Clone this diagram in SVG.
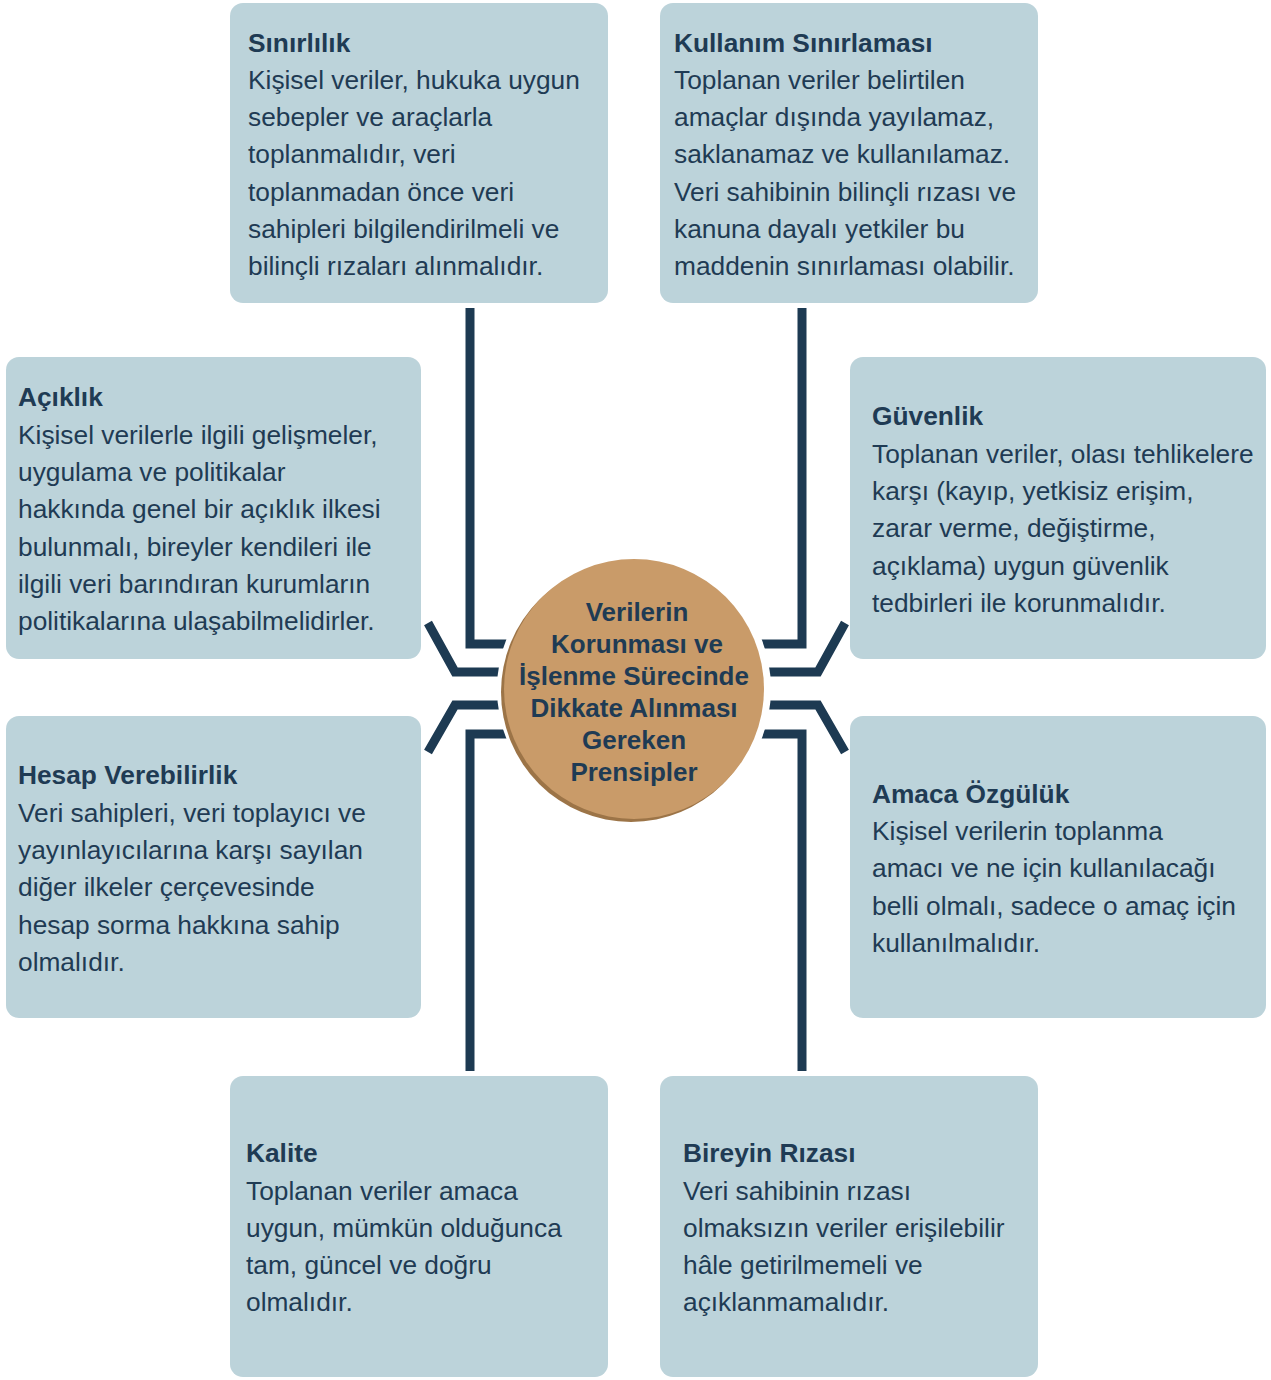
<svg xmlns="http://www.w3.org/2000/svg" width="1271" height="1380" viewBox="0 0 1271 1380">
<style>
.box{fill:#bcd3da}
.t{font-family:"Liberation Sans",Arial,Helvetica,sans-serif;font-size:26.3px;fill:#1f3b54}
.h{font-weight:bold}
.c{font-family:"Liberation Sans",Arial,Helvetica,sans-serif;font-size:26px;font-weight:bold;fill:#1f3b54;text-anchor:middle}
.ln{fill:none;stroke:#1d3a52;stroke-width:9;stroke-linejoin:miter;stroke-linecap:butt}
</style>
<rect width="1271" height="1380" fill="#fff"/>
<g id="connectors">
<path class="ln" d="M470 308 V644 H520"/>
<path class="ln" d="M428 623 L455 672 H520"/>
<path class="ln" d="M428 752 L455 705 H520"/>
<path class="ln" d="M470 1071 V734 H520"/>
<path class="ln" d="M802 308 V644 H750"/>
<path class="ln" d="M845 623 L818 672 H750"/>
<path class="ln" d="M845 752 L818 705 H750"/>
<path class="ln" d="M802 1071 V734 H750"/>
</g>
<g id="center">
<circle cx="634" cy="689" r="137" fill="#fff"/>
<circle cx="631" cy="692" r="130" fill="#9c7447"/>
<circle cx="634" cy="689" r="130" fill="#c99b69"/>
<text class="c" x="637" y="621">Verilerin</text>
<text class="c" x="637" y="653">Korunması ve</text>
<text class="c" x="634" y="685">İşlenme Sürecinde</text>
<text class="c" x="634" y="717">Dikkate Alınması</text>
<text class="c" x="634" y="749">Gereken</text>
<text class="c" x="634" y="781">Prensipler</text>
</g>
<g id="sinirlilik">
<rect class="box" x="230" y="3" width="378" height="300" rx="13"/>
<text class="t" x="248"><tspan class="h" x="248" y="52">Sınırlılık</tspan><tspan x="248" y="89">Kişisel veriler, hukuka uygun</tspan><tspan x="248" y="126">sebepler ve araçlarla</tspan><tspan x="248" y="163">toplanmalıdır, veri</tspan><tspan x="248" y="201">toplanmadan önce veri</tspan><tspan x="248" y="238">sahipleri bilgilendirilmeli ve</tspan><tspan x="248" y="275">bilinçli rızaları alınmalıdır.</tspan></text>
</g>
<g id="kullanim">
<rect class="box" x="660" y="3" width="378" height="300" rx="13"/>
<text class="t" x="674"><tspan class="h" x="674" y="52">Kullanım Sınırlaması</tspan><tspan x="674" y="89">Toplanan veriler belirtilen</tspan><tspan x="674" y="126">amaçlar dışında yayılamaz,</tspan><tspan x="674" y="163">saklanamaz ve kullanılamaz.</tspan><tspan x="674" y="201">Veri sahibinin bilinçli rızası ve</tspan><tspan x="674" y="238">kanuna dayalı yetkiler bu</tspan><tspan x="674" y="275">maddenin sınırlaması olabilir.</tspan></text>
</g>
<g id="aciklik">
<rect class="box" x="6" y="357" width="415" height="302" rx="13"/>
<text class="t" x="18"><tspan class="h" x="18" y="406">Açıklık</tspan><tspan x="18" y="444">Kişisel verilerle ilgili gelişmeler,</tspan><tspan x="18" y="481">uygulama ve politikalar</tspan><tspan x="18" y="518">hakkında genel bir açıklık ilkesi</tspan><tspan x="18" y="556">bulunmalı, bireyler kendileri ile</tspan><tspan x="18" y="593">ilgili veri barındıran kurumların</tspan><tspan x="18" y="630">politikalarına ulaşabilmelidirler.</tspan></text>
</g>
<g id="guvenlik">
<rect class="box" x="850" y="357" width="416" height="302" rx="13"/>
<text class="t" x="872"><tspan class="h" x="872" y="425">Güvenlik</tspan><tspan x="872" y="463">Toplanan veriler, olası tehlikelere</tspan><tspan x="872" y="500">karşı (kayıp, yetkisiz erişim,</tspan><tspan x="872" y="537">zarar verme, değiştirme,</tspan><tspan x="872" y="575">açıklama) uygun güvenlik</tspan><tspan x="872" y="612">tedbirleri ile korunmalıdır.</tspan></text>
</g>
<g id="hesap">
<rect class="box" x="6" y="716" width="415" height="302" rx="13"/>
<text class="t" x="18"><tspan class="h" x="18" y="784">Hesap Verebilirlik</tspan><tspan x="18" y="822">Veri sahipleri, veri toplayıcı ve</tspan><tspan x="18" y="859">yayınlayıcılarına karşı sayılan</tspan><tspan x="18" y="896">diğer ilkeler çerçevesinde</tspan><tspan x="18" y="934">hesap sorma hakkına sahip</tspan><tspan x="18" y="971">olmalıdır.</tspan></text>
</g>
<g id="amaca">
<rect class="box" x="850" y="716" width="416" height="302" rx="13"/>
<text class="t" x="872"><tspan class="h" x="872" y="803">Amaca Özgülük</tspan><tspan x="872" y="840">Kişisel verilerin toplanma</tspan><tspan x="872" y="877">amacı ve ne için kullanılacağı</tspan><tspan x="872" y="915">belli olmalı, sadece o amaç için</tspan><tspan x="872" y="952">kullanılmalıdır.</tspan></text>
</g>
<g id="kalite">
<rect class="box" x="230" y="1076" width="378" height="301" rx="13"/>
<text class="t" x="246"><tspan class="h" x="246" y="1162">Kalite</tspan><tspan x="246" y="1200">Toplanan veriler amaca</tspan><tspan x="246" y="1237">uygun, mümkün olduğunca</tspan><tspan x="246" y="1274">tam, güncel ve doğru</tspan><tspan x="246" y="1311">olmalıdır.</tspan></text>
</g>
<g id="bireyin">
<rect class="box" x="660" y="1076" width="378" height="301" rx="13"/>
<text class="t" x="683"><tspan class="h" x="683" y="1162">Bireyin Rızası</tspan><tspan x="683" y="1200">Veri sahibinin rızası</tspan><tspan x="683" y="1237">olmaksızın veriler erişilebilir</tspan><tspan x="683" y="1274">hâle getirilmemeli ve</tspan><tspan x="683" y="1311">açıklanmamalıdır.</tspan></text>
</g>
</svg>
